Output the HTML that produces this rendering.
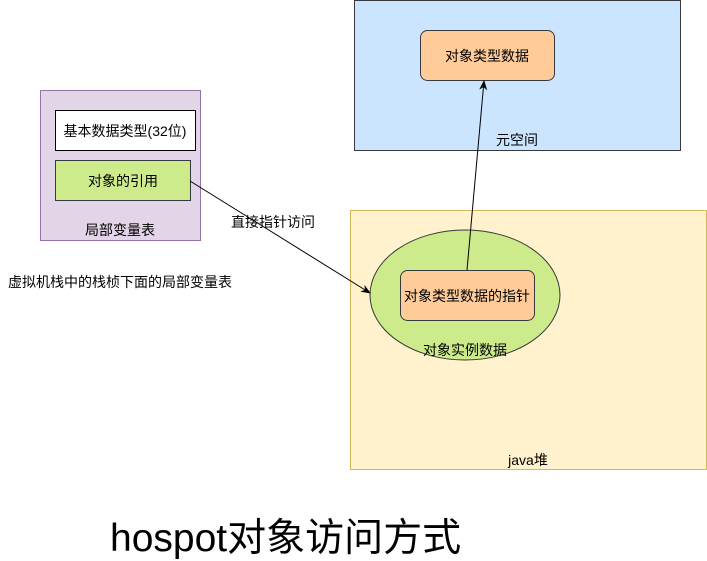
<html><body style="margin:0;width:707px;height:561px;background:#fff;position:relative;overflow:hidden;font-family:'Liberation Sans','Noto Sans CJK SC',sans-serif;">
<svg width="707" height="561" style="position:absolute;left:0;top:0" font-family="'Liberation Sans','Noto Sans CJK SC',sans-serif" font-size="14">
<defs><marker id="a" markerWidth="10" markerHeight="10" refX="9" refY="5" orient="auto" markerUnits="userSpaceOnUse"><path d="M0,1 L10,5 L0,9 L3,5 Z" fill="#000"/></marker></defs>
<rect x="354.5" y="0.5" width="326" height="150" fill="#cce5ff" stroke="#36393d"/>
<rect x="420.5" y="30.5" width="134" height="50" rx="7" fill="#ffcc99" stroke="#36393d"/>
<text x="487" y="61" text-anchor="middle">对象类型数据</text>
<text x="517" y="145" text-anchor="middle">元空间</text>
<rect x="350.5" y="210.5" width="356" height="259" fill="#fff2cc" stroke="#d6b656"/>
<text x="528" y="465" text-anchor="middle">java堆</text>
<ellipse cx="465" cy="295" rx="95" ry="65" fill="#cdeb8b" stroke="#36393d"/>
<rect x="400.5" y="270.5" width="134" height="50" rx="7" fill="#ffcc99" stroke="#36393d"/>
<text x="467" y="301" text-anchor="middle">对象类型数据的指针</text>
<text x="465" y="355" text-anchor="middle">对象实例数据</text>
<rect x="40.5" y="90.5" width="160" height="150" fill="#e1d5e7" stroke="#9673a6"/>
<rect x="55.5" y="110.5" width="140" height="40" fill="#fff" stroke="#000"/>
<text x="125" y="136" text-anchor="middle">基本数据类型(32位)</text>
<rect x="55.5" y="160.5" width="135" height="40" fill="#cdeb8b" stroke="#36393d"/>
<text x="123" y="186" text-anchor="middle">对象的引用</text>
<text x="120" y="235" text-anchor="middle">局部变量表</text>
<text x="8" y="287">虚拟机栈中的栈桢下面的局部变量表</text>
<line x1="190" y1="181" x2="370" y2="293" stroke="#000" marker-end="url(#a)"/>
<text x="231" y="227">直接指针访问</text>
<line x1="467" y1="270" x2="484" y2="81" stroke="#000" marker-end="url(#a)"/>
<text x="110" y="551" font-size="39">hospot对象访问方式</text>
</svg>
</body></html>
